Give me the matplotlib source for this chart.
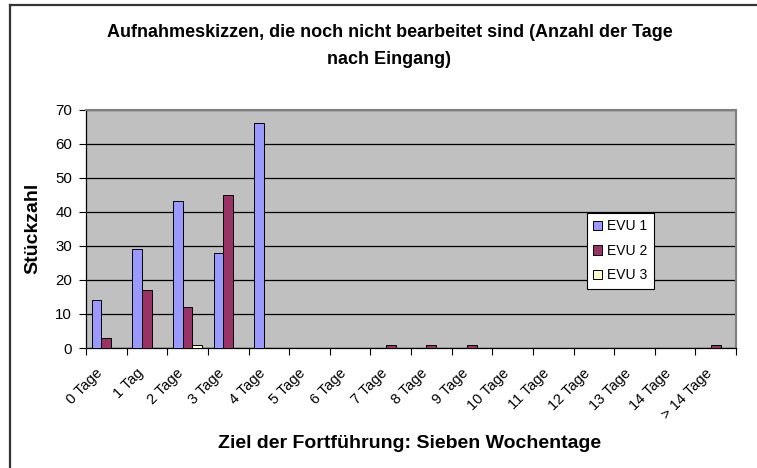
import numpy as np
import matplotlib
matplotlib.use("Agg")
import matplotlib.pyplot as plt
import matplotlib.transforms as mtransforms
from matplotlib.lines import Line2D

plt.rcParams['font.family'] = ['Liberation Sans', 'DejaVu Sans']

# Data
categories = ["0 Tage", "1 Tag", "2 Tage", "3 Tage", "4 Tage", "5 Tage", "6 Tage",
              "7 Tage", "8 Tage", "9 Tage", "10 Tage", "11 Tage", "12 Tage",
              "13 Tage", "14 Tage", "> 14 Tage"]
evu1 = [14, 29, 43, 28, 66, 0, 0, 0, 0, 0, 0, 0, 0, 0, 0, 0]
evu2 = [3, 17, 12, 45, 0, 0, 0, 1, 1, 1, 0, 0, 0, 0, 0, 1]
evu3 = [0, 0, 1, 0, 0, 0, 0, 0, 0, 0, 0, 0, 0, 0, 0, 0]
series_names = ["EVU 1", "EVU 2", "EVU 3"]
series_colors = ["#9999FF", "#993366", "#FFFFCC"]

W, H = 757, 468
fig = plt.figure(figsize=(W / 100, H / 100), dpi=100)

def fx(px):
    return px / W

def fy(py):
    return 1 - py / H

# outer chart frame (cut off at right and bottom)
fig.add_artist(Line2D([fx(9.5), fx(9.5)], [0, fy(4.5)], color="#333333", lw=1.6,
                      transform=fig.transFigure))
fig.add_artist(Line2D([fx(9.5), 1], [fy(4.5), fy(4.5)], color="#333333", lw=1.6,
                      transform=fig.transFigure))

left, right, top, bottom = 86, 736, 109.5, 348
ax = fig.add_axes([fx(left), fy(bottom), (right - left) / W, (bottom - top) / H])
ax.set_facecolor("#C0C0C0")

x = np.arange(len(categories))
bw = 0.24
for i, (vals, name, col) in enumerate(zip([evu1, evu2, evu3], series_names, series_colors)):
    xs = x + (i - 1) * bw
    v = np.array(vals, dtype=float)
    mask = v > 0
    ax.bar(xs[mask], v[mask], width=bw, color=col, edgecolor="black", linewidth=0.7,
           label=name, zorder=3)

ax.set_xlim(-0.5, len(categories) - 0.5)
ax.set_ylim(0, 70)
ax.set_yticks(range(0, 71, 10))
ax.yaxis.grid(True, color="black", linewidth=0.9, zorder=1)
ax.set_axisbelow(True)

for s in ["top", "right"]:
    ax.spines[s].set_color("#808080")
    ax.spines[s].set_linewidth(1.5)
ax.spines["left"].set_color("black")
ax.spines["bottom"].set_color("black")
ax.spines["left"].set_linewidth(0.9)
ax.spines["bottom"].set_linewidth(0.9)

ax.set_xticks(x)
ax.set_xticklabels(categories, rotation=45, ha="right", va="center",
                   rotation_mode="anchor", fontsize=10.5)
ax.set_xticks(np.arange(-0.5, len(categories), 1), minor=True)
ax.tick_params(axis="x", which="major", length=0, pad=0)
ax.tick_params(axis="x", which="minor", length=5, width=0.8, direction="out")
ax.tick_params(axis="y", length=5, width=0.8, labelsize=10.8, pad=5)
shift = mtransforms.ScaledTranslation(-6 / 100, -23 / 100, fig.dpi_scale_trans)
for lab in ax.get_xticklabels():
    lab.set_transform(lab.get_transform() + shift)

fig.text(fx(33), fy(228), "Stückzahl", rotation=90, ha="center", va="center",
         fontsize=14, fontweight="bold")
fig.text(fx(410), fy(448), "Ziel der Fortführung: Sieben Wochentage",
         ha="center", va="baseline", fontsize=14, fontweight="bold")

fig.text(fx(389.5), fy(37.3), "Aufnahmeskizzen, die noch nicht bearbeitet sind (Anzahl der Tage",
         ha="center", va="baseline", fontsize=13, fontweight="bold")
fig.text(fx(389.5), fy(64.3), "nach Eingang)",
         ha="center", va="baseline", fontsize=13, fontweight="bold")

leg = ax.legend(loc="upper left",
                bbox_to_anchor=((587 - left) / (right - left), 1 - (213 - top) / (bottom - top)),
                fontsize=10, frameon=True, fancybox=False, framealpha=1, edgecolor="black",
                handlelength=0.65, handleheight=0.65, handletextpad=0.36, borderpad=0.45,
                labelspacing=0.76, borderaxespad=0)
leg.get_frame().set_linewidth(0.8)

fig.savefig("out.png", dpi=100)
